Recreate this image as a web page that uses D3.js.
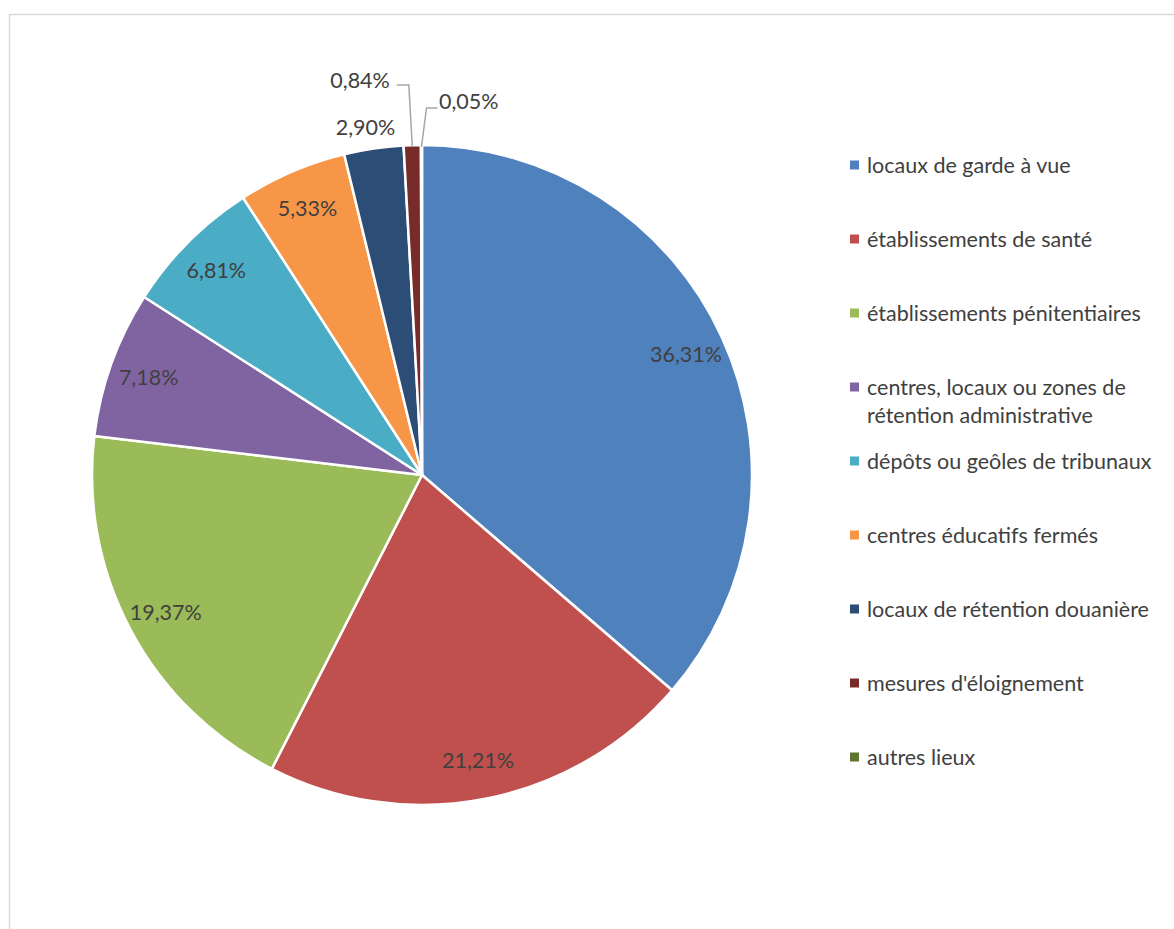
<!DOCTYPE html>
<html><head><meta charset="utf-8">
<script src="https://cdn.jsdelivr.net/npm/d3@7"></script>
<style>body{margin:0;background:#fff}svg{display:block}text{font-family:Lato,"Open Sans",sans-serif;fill:#404040}</style>
</head><body>
<svg id="c" width="1174" height="929"></svg>
<script>
const categories = ["locaux de garde à vue","établissements de santé","établissements pénitentiaires","centres, locaux ou zones de|rétention administrative","dépôts ou geôles de tribunaux","centres éducatifs fermés","locaux de rétention douanière","mesures d'éloignement","autres lieux"];
const values = [36.31,21.21,19.37,7.18,6.81,5.33,2.90,0.84,0.05];
const labels = ["36,31%","21,21%","19,37%","7,18%","6,81%","5,33%","2,90%","0,84%","0,05%"];
const colors = ["#4f81bd","#c0504d","#9bbb59","#8064a2","#4bacc6","#f79646","#2c4d75","#772c2a","#5f7530"];

const svg = d3.select("#c");
svg.append("rect").attr("x",9.5).attr("y",14.5).attr("width",1200).attr("height",1000)
  .attr("fill","#fff").attr("stroke","#d9d9d9").attr("stroke-width",1.5);

const cx=422, cy=475, R=330;
const g = svg.append("g").attr("transform",`translate(${cx},${cy})`);
const pie = d3.pie().sort(null).value(d=>d);
const arcs = pie(values);
const arc = d3.arc().innerRadius(0).outerRadius(R);
g.selectAll("path.s").data(arcs).enter().append("path").attr("class","s")
  .attr("d",arc).attr("fill",(d,i)=>colors[i]).attr("stroke","#fff").attr("stroke-width",2.5).attr("stroke-linejoin","round");

const fs = 21.5;
const inArc = d3.arc().innerRadius(R*0.88).outerRadius(R*0.88);
arcs.forEach((d,i)=>{
  if(i<6){
    const [x,y]=inArc.centroid(d);
    g.append("text").attr("x",x).attr("y",y).attr("dy","0.38em").attr("text-anchor","middle").attr("font-size",fs).text(labels[i]);
  }
});
// outside label without leader
{
  const d=arcs[6];
  const a=(d.startAngle+d.endAngle)/2, rr=R+22;
  const x=Math.sin(a)*rr-5, y=-Math.cos(a)*rr;
  g.append("text").attr("x",x).attr("y",y).attr("dy","0.36em").attr("text-anchor","middle").attr("font-size",fs).text(labels[6]);
}
// leader labels
const leaderH=[60,37], leaderDx=[-3.5,5], leaderLen=[-12,11], textGap=[-7,1.5], textRise=[5,7];
[7,8].forEach((i,k)=>{
  const d=arcs[i];
  const a=(d.startAngle+d.endAngle)/2;
  const px=Math.sin(a)*(R-2), py=-Math.cos(a)*(R-2);
  const ex=px+leaderDx[k], ey=-R-leaderH[k];
  const hx=ex+leaderLen[k];
  g.append("path").attr("d",`M${px},${py}L${ex},${ey}L${hx},${ey}`).attr("fill","none").attr("stroke","#a6a6a6").attr("stroke-width",1.5);
  g.append("text").attr("x",hx+textGap[k]).attr("y",ey-textRise[k]).attr("dy","0.36em").attr("text-anchor",k==0?"end":"start").attr("font-size",fs).text(labels[i]);
});

// legend
const lg = svg.append("g");
categories.forEach((c,i)=>{
  const y=165+74*i;
  lg.append("rect").attr("x",850).attr("y",y-4.5).attr("width",9).attr("height",9).attr("fill",colors[i]);
  const t=lg.append("text").attr("x",867).attr("y",y).attr("font-size",fs);
  c.split("|").forEach((line,j)=>{
    t.append("tspan").attr("x",867).attr("dy",j==0?"0.36em":"28px").text(line);
  });
});
</script>
</body></html>
